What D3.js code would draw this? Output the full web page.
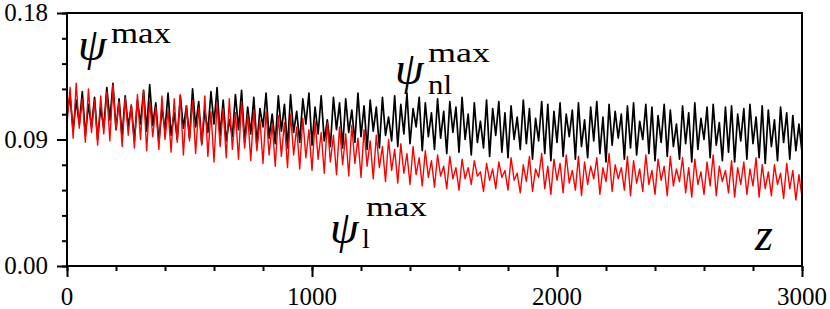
<!DOCTYPE html>
<html><head><meta charset="utf-8">
<script src="https://cdn.jsdelivr.net/npm/d3@7/dist/d3.min.js"></script>
<style>body{margin:0;background:#fff}svg{display:block}</style>
</head><body><svg id="c" width="830" height="309"></svg>
<script>
// z step between samples
const zStep = 12.5;
const xMajorTicks = [0, 1000, 2000, 3000];
const xMinorTicks = [0, 200, 400, 600, 800, 1000, 1200, 1400, 1600, 1800, 2000, 2200, 2400, 2600, 2800, 3000];
const yMajorTicks = [0, 0.09, 0.18];
const yMinorTicks = [0, 0.018, 0.036, 0.054, 0.072, 0.09, 0.108, 0.126, 0.144, 0.162, 0.18];

// psi_nl^max (black)
const psiNl = [
.108,.121,.096,.118,.101,.124,.093,.115,.099,.120,
.090,.113,.098,.127,.104,.130,.097,.119,.092,.121,
.099,.114,.089,.118,.101,.125,.096,.129,.100,.116,
.088,.112,.097,.123,.093,.109,.090,.121,.098,.114,
.091,.126,.099,.117,.087,.111,.095,.124,.101,.127,
.093,.118,.089,.104,.092,.122,.097,.125,.088,.113,
.094,.120,.086,.112,.099,.123,.091,.108,.087,.121,
.096,.115,.084,.122,.095,.110,.088,.119,.101,.123,
.086,.113,.094,.121,.089,.104,.085,.120,.097,.116,
.084,.119,.095,.111,.088,.123,.092,.114,.083,.118,
.096,.113,.084,.120,.093,.106,.089,.121,.085,.115,
.094,.123,.087,.112,.099,.120,.082,.116,.092,.109,
.083,.119,.091,.110,.080,.117,.095,.113,.081,.120,
.090,.108,.079,.116,.088,.103,.084,.118,.078,.112,
.093,.117,.081,.109,.077,.114,.090,.106,.083,.118,
.087,.112,.076,.105,.089,.117,.080,.115,.075,.110,
.088,.116,.078,.108,.092,.111,.076,.116,.085,.104,
.077,.113,.089,.117,.080,.106,.074,.115,.086,.110,
.091,.108,.076,.114,.084,.116,.079,.103,.090,.115,
.080,.113,.075,.107,.088,.115,.078,.111,.085,.101,
.076,.114,.087,.109,.074,.116,.083,.105,.090,.113,
.077,.115,.086,.102,.075,.113,.081,.114,.074,.108,
.089,.112,.076,.115,.087,.106,.077,.114,.073,.111,
.085,.104,.075,.113,.088,.109,.076,.107,.082,.101,
.081];

// psi_l^max (red)
const psiL = [
.101,.127,.091,.130,.098,.119,.088,.126,.095,.118,
.086,.121,.094,.124,.089,.129,.097,.117,.085,.120,
.093,.115,.084,.122,.090,.125,.082,.117,.092,.113,
.083,.121,.090,.111,.081,.119,.088,.122,.079,.114,
.089,.118,.080,.113,.086,.121,.078,.110,.074,.116,
.085,.112,.077,.119,.083,.109,.076,.117,.084,.108,
.075,.111,.082,.104,.073,.110,.079,.101,.071,.107,
.078,.102,.070,.108,.079,.099,.069,.105,.077,.097,
.068,.103,.076,.095,.066,.102,.074,.093,.065,.099,
.072,.094,.064,.100,.073,.091,.063,.097,.071,.089,
.062,.093,.070,.085,.060,.090,.068,.083,.059,.087,
.066,.080,.058,.085,.065,.077,.057,.082,.063,.075,
.056,.079,.064,.071,.055,.078,.062,.070,.054,.076,
.062,.070,.058,.075,.064,.067,.053,.073,.061,.069,
.055,.074,.063,.068,.054,.077,.061,.066,.052,.072,
.060,.078,.053,.069,.063,.080,.055,.071,.051,.076,
.061,.073,.052,.079,.059,.068,.054,.078,.050,.074,
.058,.071,.062,.077,.051,.070,.060,.080,.053,.072,
.062,.070,.054,.078,.050,.075,.059,.069,.053,.079,
.058,.068,.051,.076,.061,.071,.050,.078,.057,.069,
.060,.077,.052,.070,.049,.076,.058,.067,.051,.074,
.057,.079,.050,.071,.060,.068,.052,.075,.049,.070,
.058,.074,.051,.069,.057,.077,.049,.072,.055,.067,
.050,.072,.058,.066,.048,.073,.055,.068,.047,.065,
.049];

const svg = d3.select("#c");
const x = d3.scaleLinear().domain([0, 3000]).range([67, 802]);
const y = d3.scaleLinear().domain([0, 0.18]).range([266, 13]);

svg.append("clipPath").attr("id","clip").append("rect")
  .attr("x", x(0)).attr("y", y(0.18)).attr("width", x(3000)-x(0)).attr("height", y(0)-y(0.18));

const line = d3.line().x((d,i)=>x(i*zStep)).y(d=>y(d));
const g = svg.append("g").attr("clip-path","url(#clip)");
g.append("path").datum(psiNl).attr("d", line).attr("fill","none").attr("stroke","#000").attr("stroke-width",1.7).attr("stroke-linejoin","round");
g.append("path").datum(psiL).attr("d", line).attr("fill","none").attr("stroke","#ff0000").attr("stroke-width",1.4).attr("stroke-linejoin","round");

function styleAxis(sel){ sel.select(".domain").remove(); sel.selectAll(".tick line").attr("stroke","#000").attr("stroke-width",2); }
svg.append("g").attr("transform",`translate(${x(0)},0)`)
  .call(d3.axisLeft(y).tickValues(yMinorTicks).tickSize(5).tickFormat("")).call(styleAxis);
svg.append("g").attr("transform",`translate(${x(0)},0)`)
  .call(d3.axisLeft(y).tickValues(yMajorTicks).tickSize(10).tickFormat("")).call(styleAxis);
svg.append("g").attr("transform",`translate(0,${y(0)})`)
  .call(d3.axisBottom(x).tickValues(xMinorTicks).tickSize(5).tickFormat("")).call(styleAxis);
svg.append("g").attr("transform",`translate(0,${y(0)})`)
  .call(d3.axisBottom(x).tickValues(xMajorTicks).tickSize(11).tickFormat("")).call(styleAxis);

svg.append("rect").attr("x", x(0)).attr("y", y(0.18)).attr("width", x(3000)-x(0)).attr("height", y(0)-y(0.18))
  .attr("fill","none").attr("stroke","#000").attr("stroke-width",2);

const T = (xx, yy, fs, s, it) => {
  const t = svg.append("text").attr("x",xx).attr("y",yy)
    .style("font-family","'Liberation Serif'").style("font-size",fs+"px").text(s);
  if (it) t.style("font-style","italic");
  return t;
};

yMajorTicks.forEach(d => T(48, y(d)+8, 25, d3.format(".2f")(d)).attr("text-anchor","end"));
xMajorTicks.forEach(d => T(x(d), 305, 25, String(d)).attr("text-anchor","middle"));

function mathLabel(parts){
  const t = svg.append("text").style("font-family","'Liberation Serif'");
  parts.forEach(p => {
    const s = t.append("tspan").attr("x", p.x).attr("y", p.y).style("font-size", p.fs+"px").text(p.s);
    if (p.it) s.style("font-style","italic");
    if (p.w) s.attr("textLength", p.w).attr("lengthAdjust","spacingAndGlyphs");
  });
}
mathLabel([{x:78,y:60,fs:46,s:"ψ",it:true},{x:111,y:43,fs:30,s:"max",w:60}]);
mathLabel([{x:395,y:84,fs:46,s:"ψ",it:true},{x:428,y:62,fs:28,s:"max",w:62},{x:428,y:94,fs:28,s:"nl",w:24}]);
mathLabel([{x:330,y:243,fs:46,s:"ψ",it:true},{x:366,y:216,fs:28,s:"max",w:61},{x:362,y:248,fs:28,s:"l"}]);
T(755, 250, 46, "z", true);
</script></body></html>
